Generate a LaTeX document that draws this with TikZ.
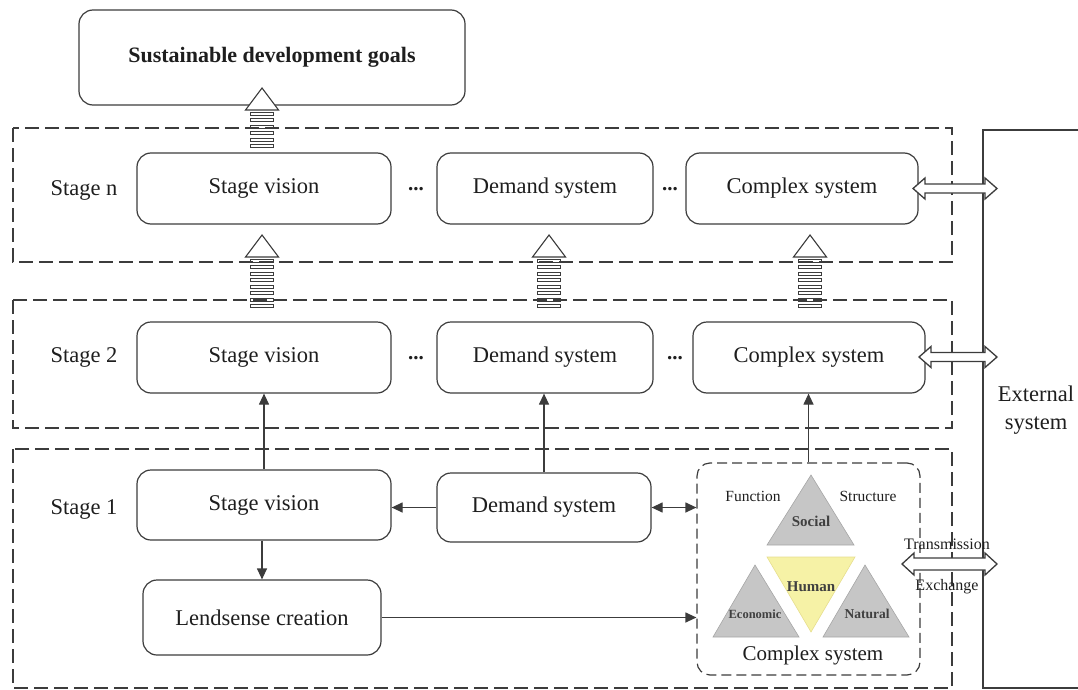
\documentclass[tikz,border=0pt]{standalone}
\usepackage{fontspec}
\setmainfont{Liberation Serif}
\usetikzlibrary{arrows.meta,calc}
\definecolor{linec}{HTML}{3C3C3C}
\definecolor{txt}{HTML}{1E1E1E}
\definecolor{tri}{HTML}{C6C6C6}
\definecolor{trie}{HTML}{A6A6A6}
\definecolor{yel}{HTML}{F6F2A6}
\definecolor{yele}{HTML}{E6DE8E}
\newcommand\ladder[3]{%
  \pgfmathsetmacro\lyb{#2+22}%
  \pgfmathsetmacro\lys{#2+24}%
  \pgfmathsetmacro\lyt{#2+30.5}%
  \pgfmathsetmacro\lye{#3-3}%
  \draw[ladderline, line width=1.1pt, fill=white] (#1,#2) -- (#1+16.5,\lyb) -- (#1-16.5,\lyb) -- cycle;
  \foreach \yy in {\lys,\lyt,...,\lye} \draw[ladderline] (#1-11.5,\yy) rectangle (#1+11.5,\yy+3);
}
\newcommand\dblarrow[5]{%
  \draw[ladderline, line width=1.3pt, fill=white] (#1,#3) -- (#1+12,#3-#5) -- (#1+12,#3-#4) -- (#2-12,#3-#4) -- (#2-12,#3-#5) -- (#2,#3) -- (#2-12,#3+#5) -- (#2-12,#3+#4) -- (#1+12,#3+#4) -- (#1+12,#3+#5) -- cycle;
}
\begin{document}
\begin{tikzpicture}[x=1pt,y=-1pt,
  ladderline/.style={draw=linec, line width=0.85pt},
  box/.style={draw=linec, line width=1.2pt, rounded corners=14pt, inner sep=0pt, text=txt, font=\fontsize{22.5}{27}\selectfont},
  stagebox/.style={draw=linec, line width=1.3pt, dash pattern=on 14pt off 6pt},
  lbl/.style={text=txt, font=\fontsize{22.5}{27}\selectfont, inner sep=0pt},
  dots/.style={text=txt, font=\fontsize{21}{25}\selectfont\bfseries, inner sep=0pt, anchor=base},
  small/.style={text=txt, font=\fontsize{15.5}{18}\selectfont, inner sep=0pt},
  tlbl/.style={text=black!75, font=\bfseries, inner sep=0pt},
  conn/.style={draw=linec, line width=1.2pt, -{Triangle[length=11pt,width=10pt]}},
  tri/.style={fill=tri, draw=trie, line width=0.6pt}
]
\useasboundingbox (0,0) rectangle (1078,690);

% stage frames
\draw[stagebox] (13,128) rectangle (952,262);
\draw[stagebox] (13,300) rectangle (952,428);
\draw[stagebox] (13,449) rectangle (952,688);
% external system
\draw[draw=linec, line width=1.3pt] (1085,130) -- (983,130) -- (983,688) -- (1085,688);
\node[lbl, align=center] (ext) at (1036,410) {External\\[1pt]system};

% top goal
\node[box, minimum width=386pt, minimum height=95pt, font=\fontsize{22}{26}\selectfont\bfseries] (top) at (272,57.5) {Sustainable development goals};

% stage n
\node[lbl] (lbln) at (84,190) {Stage n};
\node[box, minimum width=254pt, minimum height=71pt] (svn) at (264,188.5) {Stage vision};
\node[box, minimum width=216pt, minimum height=71pt] (dmn) at (545,188.5) {Demand system};
\node[box, minimum width=232pt, minimum height=71pt] (cxn) at (802,188.5) {Complex system};
\node[dots] (dn1) at (416,190) {...};
\node[dots] (dn2) at (670,190) {...};

% stage 2
\node[lbl] (lbl2) at (84,357) {Stage 2};
\node[box, minimum width=254pt, minimum height=71pt] (sv2) at (264,357.5) {Stage vision};
\node[box, minimum width=216pt, minimum height=71pt] (dm2) at (545,357.5) {Demand system};
\node[box, minimum width=232pt, minimum height=71pt] (cx2) at (809,357.5) {Complex system};
\node[dots] (d21) at (416,359) {...};
\node[dots] (d22) at (675,359) {...};

% stage 1
\node[lbl] (lbl1) at (84,509) {Stage 1};
\node[box, minimum width=254pt, minimum height=70pt] (sv1) at (264,505) {Stage vision};
\node[box, minimum width=214pt, minimum height=69pt] (dm1) at (544,507.5) {Demand system};
\node[box, minimum width=238pt, minimum height=75pt] (ls) at (262,617.5) {Lendsense creation};
\node[draw=linec, line width=1.2pt, rounded corners=13pt, dash pattern=on 10pt off 5pt, minimum width=223pt, minimum height=212pt, inner sep=0pt] (cx1) at (808.5,569) {};

% triangles
\draw[tri] (811,475) -- (854,545) -- (767,545) -- cycle;
\draw[fill=yel, draw=yele, line width=0.6pt] (767,557) -- (855,557) -- (811,632) -- cycle;
\draw[tri] (755,565) -- (799,637) -- (713,637) -- cycle;
\draw[tri] (865,565) -- (909,637) -- (823,637) -- cycle;
\node[tlbl, font=\fontsize{15}{18}\selectfont\bfseries] (soc) at (811,521) {Social};
\node[tlbl, font=\fontsize{15}{18}\selectfont\bfseries] (hum) at (811,587) {Human};
\node[tlbl, font=\fontsize{12.5}{15}\selectfont\bfseries] (eco) at (755,614) {Economic};
\node[tlbl, font=\fontsize{13.5}{16}\selectfont\bfseries] (nat) at (867,614) {Natural};
\node[small] (fun) at (753,496) {Function};
\node[small] (str) at (868,496) {Structure};
\node[lbl, font=\fontsize{21}{25}\selectfont] (cxl) at (813,655) {Complex system};

% connectors
\draw[conn] (sv1.north) -- (sv2.south);
\draw[conn] (dm1.north) -- (dm1.north |- dm2.south);
\draw[conn] (cx1.north) -- (cx1.north |- cx2.south);
\draw[conn] (dm1.west) -- (dm1.west -| sv1.east);
\draw[conn, {Triangle[length=11pt,width=10pt]}-{Triangle[length=11pt,width=10pt]}] (dm1.east) -- (dm1.east -| cx1.west);
\draw[conn] (ls.north |- sv1.south) -- (ls.north);
\draw[conn] (ls.east) -- (ls.east -| cx1.west);

% ladder arrows
\ladder{262}{88}{151}
\ladder{262}{235}{311}
\ladder{549}{235}{311}
\ladder{810}{235}{311}

% double open arrows
\dblarrow{913}{997}{188.5}{4.5}{10.5}
\dblarrow{919}{997}{357}{4.5}{10.5}
\dblarrow{902}{997}{564}{6}{11}
\node[small, font=\fontsize{16}{19}\selectfont] (trm) at (947,544) {Transmission};
\node[small, font=\fontsize{16}{19}\selectfont] (exc) at (947,587) {Exchange};
\end{tikzpicture}
\end{document}
